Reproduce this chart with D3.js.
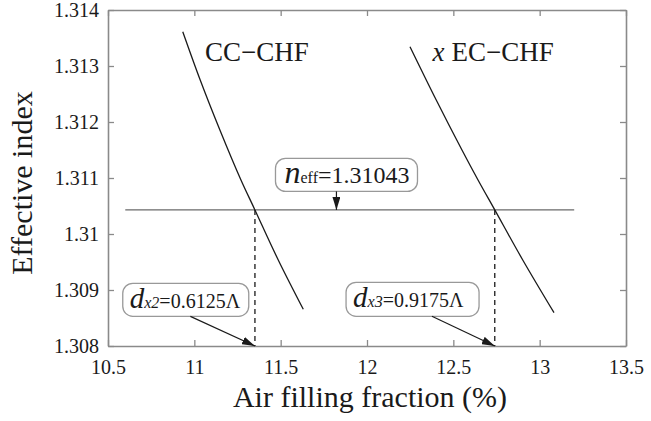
<!DOCTYPE html>
<html>
<head>
<meta charset="utf-8">
<script src="https://cdn.jsdelivr.net/npm/d3@7"></script>
<style>
  body { margin: 0; background: #fff; }
  svg { display: block; }
  svg text { font-family: "Liberation Serif", "Times New Roman", serif; }
</style>
</head>
<body>
<svg id="chart" width="651" height="421"></svg>
<script>
"use strict";

// tick values and labels
var xTicks = [10.5, 11, 11.5, 12, 12.5, 13, 13.5]
var xTickLabels = ["10.5", "11", "11.5", "12", "12.5", "13", "13.5"]
var yTicks = [1.308, 1.309, 1.310, 1.311, 1.312, 1.313, 1.314]
var yTickLabels = ["1.308", "1.309", "1.31", "1.311", "1.312", "1.313", "1.314"]

// CC-CHF curve
var ccFraction = [10.933, 11.034, 11.148, 11.270, 11.351, 11.486, 11.631]
var ccIndex = [1.313612, 1.312750, 1.311857, 1.310964, 1.310430, 1.309536, 1.308655]

// xEC-CHF curve
var ecFraction = [12.249, 12.401, 12.550, 12.643, 12.740, 12.902, 13.083]
var ecIndex = [1.313345, 1.312393, 1.311500, 1.310964, 1.310430, 1.309536, 1.308595]

// effective index level and where the curves cross it
var nEff = 1.31043
var nEffRange = [10.6, 13.2]
var crossFraction = [11.351, 12.740]
var crossLabels = ["x2", "x3"]
var crossValues = ["=0.6125\u039B", "=0.9175\u039B"]

var width = 651
var height = 421
var margin = {top: 10, right: 25, bottom: 75, left: 108}
var w = width - margin.left - margin.right
var h = height - margin.top - margin.bottom

var serif = "'Liberation Serif', 'Times New Roman', serif"
var axisColor = "#8a8a8a"
var lineColor = "#1a1a1a"
var textColor = "#1a1a1a"

var svg = d3.select("#chart")

var defs = svg.append("defs")
defs.append("marker")
    .attr("id", "arrow")
    .attr("viewBox", "0 0 13 8")
    .attr("refX", 13)
    .attr("refY", 4)
    .attr("markerWidth", 13)
    .attr("markerHeight", 8)
    .attr("markerUnits", "userSpaceOnUse")
    .attr("orient", "auto")
    .append("path")
    .attr("d", "M0,0 L13,4 L0,8 Z")
    .attr("fill", lineColor)

var g = svg.append("g")
    .attr("transform", "translate(" + margin.left + "," + margin.top + ")")

var x = d3.scaleLinear().domain([10.5, 13.5]).range([0, w])
var y = d3.scaleLinear().domain([1.308, 1.314]).range([h, 0])

function styleAxis(sel) {
    sel.attr("font-family", serif).attr("font-size", 20)
    sel.select(".domain").attr("stroke", axisColor).attr("stroke-width", 1.6)
    sel.selectAll(".tick line").attr("stroke", axisColor).attr("stroke-width", 1.3)
    sel.selectAll(".tick text").attr("fill", textColor)
}

var xAxis = d3.axisBottom(x)
    .tickValues(xTicks)
    .tickFormat(function(d, i) { return xTickLabels[i] })
    .tickSizeInner(-6).tickSizeOuter(0).tickPadding(14)
var xAxisTop = d3.axisTop(x)
    .tickValues(xTicks).tickFormat("")
    .tickSizeInner(-6).tickSizeOuter(0)
var yAxis = d3.axisLeft(y)
    .tickValues(yTicks)
    .tickFormat(function(d, i) { return yTickLabels[i] })
    .tickSizeInner(-6).tickSizeOuter(0).tickPadding(9)
var yAxisRight = d3.axisRight(y)
    .tickValues(yTicks).tickFormat("")
    .tickSizeInner(-6).tickSizeOuter(0)

g.append("g").attr("transform", "translate(0," + h + ")").call(xAxis).call(styleAxis)
g.append("g").call(xAxisTop).call(styleAxis)
g.append("g").call(yAxis).call(styleAxis)
g.append("g").attr("transform", "translate(" + w + ",0)").call(yAxisRight).call(styleAxis)

// axis titles
svg.append("text")
    .attr("x", margin.left + w / 2 + 3)
    .attr("y", 407)
    .attr("text-anchor", "middle")
    .attr("fill", textColor)
    .style("font-size", "30px")
    .text("Air filling fraction (%)")

svg.append("text")
    .attr("transform", "translate(32," + (margin.top + 173) + ") rotate(-90)")
    .attr("text-anchor", "middle")
    .attr("fill", textColor)
    .style("font-size", "30px")
    .text("Effective index")

// neff horizontal line
g.append("line")
    .attr("x1", x(nEffRange[0])).attr("x2", x(nEffRange[1]))
    .attr("y1", y(nEff)).attr("y2", y(nEff))
    .attr("stroke", "#6a6a6a").attr("stroke-width", 1.4)

// curves
var line = d3.line()
    .x(function(d) { return x(d[0]) })
    .y(function(d) { return y(d[1]) })
    .curve(d3.curveCatmullRom)

var curves = [d3.zip(ccFraction, ccIndex), d3.zip(ecFraction, ecIndex)]
g.selectAll(".curve")
    .data(curves).enter()
    .append("path")
    .attr("class", "curve")
    .attr("d", line)
    .attr("fill", "none")
    .attr("stroke", lineColor)
    .attr("stroke-width", 1.3)

// dashed drop lines
g.selectAll(".drop")
    .data(crossFraction).enter()
    .append("line")
    .attr("class", "drop")
    .attr("x1", function(d) { return x(d) }).attr("x2", function(d) { return x(d) })
    .attr("y1", y(nEff)).attr("y2", h)
    .attr("stroke", lineColor)
    .attr("stroke-width", 1.3)
    .attr("stroke-dasharray", "5,4")

// curve names
g.append("text")
    .attr("x", x(11.062)).attr("y", y(1.31309))
    .attr("fill", textColor)
    .style("font-size", "27px")
    .text("CC\u2212CHF")

var ecName = g.append("text")
    .attr("x", x(12.38)).attr("y", y(1.31309))
    .attr("fill", textColor)
    .style("font-size", "27px")
ecName.append("tspan").style("font-style", "italic").text("x")
ecName.append("tspan").attr("dx", 7).text("EC\u2212CHF")

// neff label box
var nBox = {x: x(11.47), y: y(1.311350), w: 142, h: 33}
g.append("rect")
    .attr("x", nBox.x).attr("y", nBox.y)
    .attr("width", nBox.w).attr("height", nBox.h)
    .attr("rx", 10)
    .attr("fill", "#fff").attr("stroke", "#999").attr("stroke-width", 1.3)
var nText = g.append("text")
    .attr("x", nBox.x + 9).attr("y", nBox.y + 25)
    .attr("fill", textColor)
nText.append("tspan").style("font-style", "italic").style("font-size", "32px").text("n")
nText.append("tspan").style("font-size", "16px").text("eff")
nText.append("tspan").style("font-size", "24px").text("=1.31043")
g.append("line")
    .attr("x1", x(11.823)).attr("x2", x(11.823))
    .attr("y1", nBox.y + nBox.h).attr("y2", y(nEff))
    .attr("stroke", lineColor).attr("stroke-width", 1.2)
    .attr("marker-end", "url(#arrow)")

// d labels with arrows to the axis
var dBoxes = [
    {x: x(10.5855), y: y(1.309119), w: 126, h: 33, ax: x(10.977), tip: crossFraction[0]},
    {x: x(11.8787), y: y(1.309137), w: 133, h: 34, ax: x(12.376), tip: crossFraction[1]}
]

dBoxes.forEach(function(b, i) {
    g.append("rect")
        .attr("x", b.x).attr("y", b.y)
        .attr("width", b.w).attr("height", b.h)
        .attr("rx", 10)
        .attr("fill", "#fff").attr("stroke", "#999").attr("stroke-width", 1.3)
    var t = g.append("text")
        .attr("x", b.x + 7).attr("y", b.y + 25)
        .attr("fill", textColor)
    t.append("tspan").style("font-style", "italic").style("font-size", "29px").text("d")
    t.append("tspan").style("font-style", "italic").style("font-size", "16px").text(crossLabels[i])
    t.append("tspan").style("font-size", "20px").text(crossValues[i])
    g.append("line")
        .attr("x1", b.ax).attr("y1", b.y + b.h)
        .attr("x2", x(b.tip)).attr("y2", h)
        .attr("stroke", lineColor).attr("stroke-width", 1.2)
        .attr("marker-end", "url(#arrow)")
})
</script>
</body>
</html>
